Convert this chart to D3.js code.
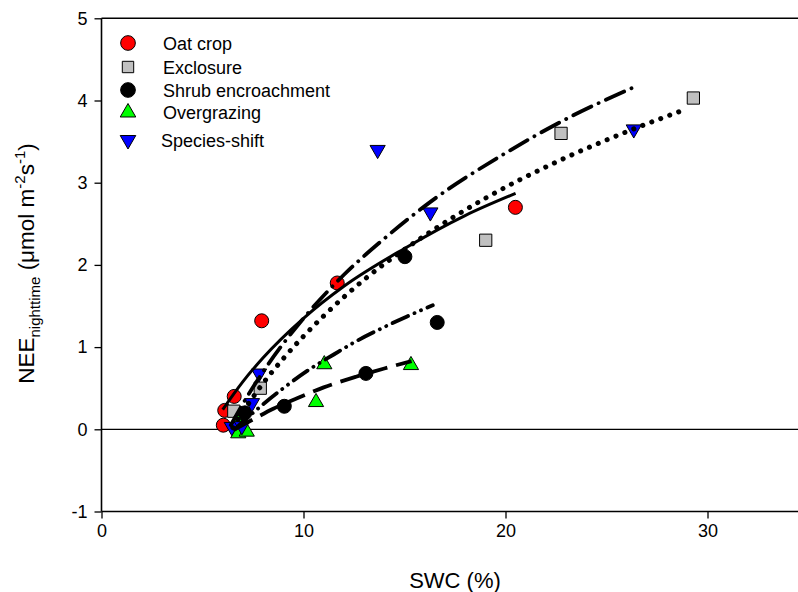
<!DOCTYPE html>
<html>
<head>
<meta charset="utf-8">
<script src="https://cdn.jsdelivr.net/npm/d3@7"></script>
<style>
  body { margin: 0; background: #fff; }
  text { font-family: "Liberation Sans", Arial, sans-serif; fill: #000; }
</style>
</head>
<body>
<script>
// data (SWC %, NEE nighttime)
var groups = ["Oat crop", "Exclosure", "Shrub encroachment", "Overgrazing", "Species-shift"];
var groupColors = ["#ff0000", "#c0c0c0", "#000000", "#00ff00", "#0000ff"];

var oatCrop = [[6.03, 0.05], [6.1, 0.23], [6.57, 0.40], [7.93, 1.32], [11.67, 1.78], [20.49, 2.70]];
var exclosure = [[6.55, 0.22], [7.86, 0.50], [19.02, 2.30], [22.75, 3.60], [29.3, 4.03]];
var shrub = [[6.88, 0.12], [7.1, 0.20], [9.05, 0.28], [13.09, 0.68], [15.02, 2.10], [16.62, 1.30]];
var overgrazing = [[6.77, -0.05], [7.19, -0.03], [6.74, 0.08], [10.62, 0.33], [11.03, 0.79], [15.32, 0.78]];
var speciesShift = [[6.45, 0.03], [6.95, 0.04], [7.45, 0.32], [7.8, 0.68], [13.67, 3.40], [16.28, 2.64], [26.35, 3.65]];

// fitted curves, points
var oatFit = [[6.0, 0.24], [7, 0.58], [8, 0.87], [10, 1.35], [12, 1.74], [15, 2.2], [18, 2.6], [20.5, 2.87]];
var exclosureFit = [[6.5, 0.02], [7, 0.21], [8, 0.56], [9, 0.86], [11, 1.38], [13, 1.82], [15.6, 2.29], [19, 2.81], [22.5, 3.25], [26, 3.62], [29, 3.9]];
var shrubFit = [[6.6, 0.0], [7.5, 0.2], [9, 0.5], [10.3, 0.73], [11.5, 0.91], [12.6, 1.07], [13.8, 1.22], [15.1, 1.37], [16.4, 1.51]];
var overgrazingFit = [[6.6, 0.0], [7.5, 0.12], [8.5, 0.25], [9.8, 0.39], [11, 0.51], [12.6, 0.64], [14, 0.74], [15.35, 0.83]];
var speciesFit = [[6.4, 0.05], [7, 0.31], [8, 0.7], [10, 1.35], [12, 1.88], [14, 2.32], [16.3, 2.77], [20, 3.36], [23.2, 3.8], [26.25, 4.15]];

var xTicks = [0, 10, 20, 30];
var yTicks = [-1, 0, 1, 2, 3, 4, 5];

var width = 798;
var height = 592;
var svg = d3.select("body")
        .append("svg")
        .attr("width", width)
        .attr("height", height);

var plotLeft = 101.5, plotTop = 18.3, plotBottom = 511.5;

var x = d3.scaleLinear().domain([0, 34.48]).range([plotLeft, 798]);
var y = d3.scaleLinear().domain([-1, 5]).range([plotBottom, plotTop]);

// plain integer labels with a normal hyphen for -1
var tickFmt = function (d) { return String(d); };

// axes
var xAxis = svg.append("g")
    .attr("transform", "translate(0," + plotBottom + ")")
    .call(d3.axisBottom(x).tickValues(xTicks).tickFormat(tickFmt).tickSize(7).tickPadding(6).tickSizeOuter(0));
var yAxis = svg.append("g")
    .attr("transform", "translate(" + plotLeft + ",0)")
    .call(d3.axisLeft(y).tickValues(yTicks).tickFormat(tickFmt).tickSize(7).tickPadding(7).tickSizeOuter(0));

[xAxis, yAxis].forEach(function (a) {
    a.selectAll("path").attr("stroke", "#000").attr("stroke-width", 1.6);
    a.selectAll("line").attr("stroke", "#000").attr("stroke-width", 1.3);
    a.selectAll("text").style("font-size", "18px").attr("fill", "#000");
});
xAxis.select("path").attr("d", "M" + plotLeft + ",0H" + width);
yAxis.select("path").attr("d", "M0," + y(5) + "V" + y(-1));

// top frame line
svg.append("line")
    .attr("x1", plotLeft).attr("x2", width)
    .attr("y1", y(5)).attr("y2", y(5))
    .attr("stroke", "#000").attr("stroke-width", 1.6);

// zero reference line
svg.append("line")
    .attr("x1", plotLeft).attr("x2", width)
    .attr("y1", y(0)).attr("y2", y(0))
    .attr("stroke", "#000").attr("stroke-width", 1.3);

// axis titles
svg.append("text")
    .attr("x", 455).attr("y", 588)
    .attr("text-anchor", "middle")
    .style("font-size", "22px")
    .text("SWC (%)");

var yt = svg.append("text")
    .attr("transform", "translate(34,263.5) rotate(-90)")
    .attr("text-anchor", "middle")
    .style("font-size", "22.5px");
yt.append("tspan").text("NEE");
yt.append("tspan").attr("dy", 6).style("font-size", "15px").text("nighttime");
yt.append("tspan").attr("dy", -6).text(" (\u03bcmol m");
yt.append("tspan").attr("dy", -9).style("font-size", "15px").text("-2");
yt.append("tspan").attr("dy", 9).text("s");
yt.append("tspan").attr("dy", -9).style("font-size", "15px").text("-1");
yt.append("tspan").attr("dy", 9).text(")");

// symbols
var symbolFor = [
    d3.symbol().type(d3.symbolCircle).size(154),
    d3.symbol().type(d3.symbolSquare).size(150),
    d3.symbol().type(d3.symbolCircle).size(154),
    d3.symbol().type(d3.symbolTriangle).size(100),
    d3.symbol().type(d3.symbolTriangle).size(100)
];

var seriesData = [oatCrop, exclosure, shrub, overgrazing, speciesShift];

seriesData.forEach(function (pts, i) {
    svg.append("g").selectAll("path")
        .data(pts).enter()
        .append("path")
        .attr("d", symbolFor[i])
        .attr("transform", function (d) {
            return "translate(" + x(d[0]) + "," + y(d[1]) + ")" + (i == 4 ? " rotate(180)" : "");
        })
        .attr("fill", groupColors[i])
        .attr("stroke", "#000")
        .attr("stroke-width", 1);
});

// fitted lines, all black, different dash styles
var line = d3.line()
    .x(function (d) { return x(d[0]); })
    .y(function (d) { return y(d[1]); })
    .curve(d3.curveMonotoneX);

var fits = [
    { pts: oatFit, dash: null, w: 3 },
    { pts: exclosureFit, dash: "0.1 9.5", w: 5 },
    { pts: shrubFit, dash: "17 7 0.1 7 0.1 7", w: 3.8 },
    { pts: overgrazingFit, dash: "20 9", w: 3.8 },
    { pts: speciesFit, dash: "20 8 0.1 8", w: 3.8 }
];

fits.forEach(function (f) {
    var p = svg.append("path")
        .attr("d", line(f.pts))
        .attr("fill", "none")
        .attr("stroke", "#000")
        .attr("stroke-width", f.w)
        .attr("stroke-linecap", "butt");
    if (f.dash) {
        p.attr("stroke-dasharray", f.dash);
        // dots need round caps to show up
        if (f.dash.indexOf("0.1") >= 0) p.attr("stroke-linecap", "round");
    }
});

// legend
var legendY = [43, 67, 90, 112.5, 140];
var legendSym = [
    d3.symbol().type(d3.symbolCircle).size(170),
    d3.symbol().type(d3.symbolSquare).size(130),
    d3.symbol().type(d3.symbolCircle).size(170),
    d3.symbol().type(d3.symbolTriangle).size(105),
    d3.symbol().type(d3.symbolTriangle).size(105)
];
var legend = svg.append("g").selectAll("g")
    .data(groups).enter()
    .append("g")
    .attr("transform", function (d, i) { return "translate(128," + legendY[i] + ")"; });
legend.append("path")
    .attr("d", function (d, i) { return legendSym[i](); })
    .attr("transform", function (d, i) { return i == 4 ? "rotate(180)" : null; })
    .attr("fill", function (d, i) { return groupColors[i]; })
    .attr("stroke", "#000")
    .attr("stroke-width", 1);
legend.append("text")
    .attr("x", function (d, i) { return i == 4 ? 33 : 35; })
    .attr("y", 6.5)
    .style("font-size", "18px")
    .text(function (d) { return d; });
</script>
</body>
</html>
